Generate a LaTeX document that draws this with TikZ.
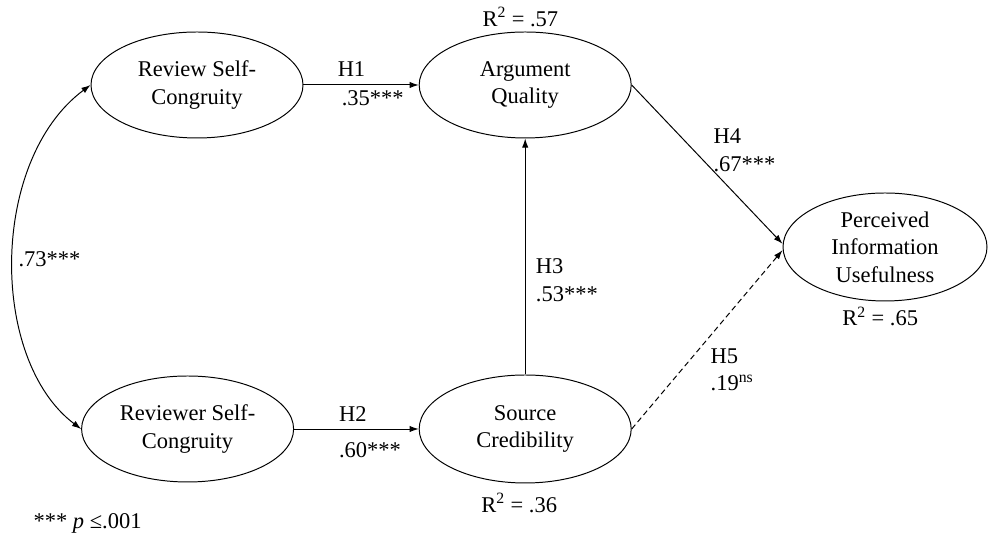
\documentclass[tikz,border=0pt]{standalone}
\usepackage{fontspec}
\setmainfont{Liberation Serif}
\usetikzlibrary{shapes.geometric, arrows.meta, positioning}

\begin{document}
\begin{tikzpicture}[font=\fontsize{16}{19.6}\selectfont, line width=0.7pt,
	>={Latex[length=6.5pt,width=4.5pt]},
	construct/.style={ellipse, draw, align=center, inner sep=0pt, minimum width=5.3cm, minimum height=2.65cm}]
	\useasboundingbox (0,0) rectangle (24.7,13.575);
	\node[construct] (rsc) at (4.925,11.45) {Review Self-\\Congruity};
	\node[construct] (rvc) at (4.69,2.85) {Reviewer Self-\\Congruity};
	\node[construct] (aq) at (13.13,11.45) {Argument\\Quality};
	\node[construct, minimum height=2.7cm] (sc) at (13.13,2.85) {Source\\Credibility};
	\node[construct, minimum width=5.1cm, minimum height=2.7cm] (piu) at (22.125,7.4) {Perceived\\Information\\Usefulness};
	\node[above=0pt of aq, xshift=-0.12cm] (r2aq) {R\textsuperscript{2} = .57};
	\node[below=3pt of sc, xshift=-0.15cm] (r2sc) {R\textsuperscript{2} = .36};
	\node[below=0pt of piu, xshift=-0.12cm] (r2piu) {R\textsuperscript{2} = .65};
	\draw[<->] (rsc.west) .. controls +(-2.53,-1.88) and +(-2.3,1.73) .. (rvc.west) node[pos=0.5, right] (r73) {.73***};
	\draw[->] (rsc) -- (aq) node[midway, above, xshift=-0.24cm, yshift=0.08cm] (h1) {H1} node[midway, below, xshift=0.29cm] (b1) {.35***};
	\draw[->] (rvc) -- (sc) node[midway, above, xshift=-0.09cm, yshift=0.05cm] (h2) {H2} node[midway, below, xshift=0.34cm, yshift=-0.2cm] (b2) {.60***};
	\draw[->] (sc) -- (aq) node[pos=0.4, right, xshift=0.14cm, align=left] (h3) {H3\\.53***};
	\draw[->] (aq.east) -- ([yshift=0.08cm]piu.west) node[pos=0.41, right=0.37cm, align=left] (h4) {H4\\.67***};
	\draw[->, dashed, dash pattern=on 4pt off 2.5pt] (sc.east) -- ([yshift=-0.08cm]piu.west) node[pos=0.33, right=0.6cm, align=left] (h5) {H5\\.19\textsuperscript{ns}};
	\node[anchor=west] (note) at (0.71,0.5) {*** \textit{p} ≤.001};
\end{tikzpicture}
\end{document}
